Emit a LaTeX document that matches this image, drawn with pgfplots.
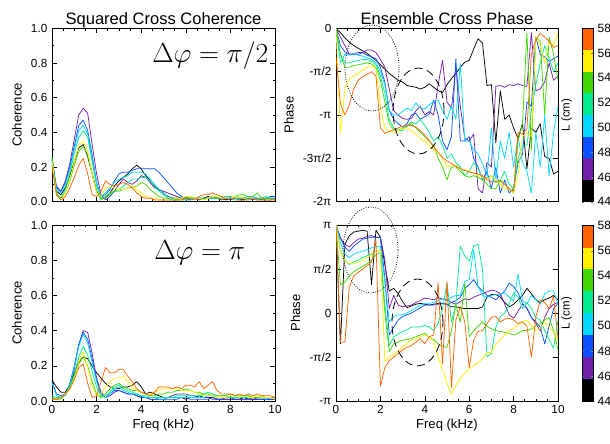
\documentclass[border=0pt]{standalone}
\usepackage{fontspec}
\setmainfont{Liberation Sans}
\usepackage{pgfplots}
\usepackage{pgfplotstable}
\pgfplotsset{compat=1.18}

\definecolor{cK}{RGB}{0,0,0}
\definecolor{cP}{RGB}{112,32,168}
\definecolor{cB}{RGB}{10,80,255}
\definecolor{cC}{RGB}{0,216,255}
\definecolor{cS}{RGB}{0,235,140}
\definecolor{cG}{RGB}{64,216,0}
\definecolor{cY}{RGB}{255,240,0}
\definecolor{cO}{RGB}{255,100,0}

% coherence, delta phi = pi/2
\pgfplotstableread{
f k p b c s g y o
0 0.26 0.24 0.22 0.24 0.26 0.25 0.23 0.20
0.2 0.06 0.09 0.08 0.07 0.05 0.04 0.04 0.04
0.4 0.04 0.06 0.06 0.05 0.02 0.02 0.01 0.01
0.6 0.08 0.12 0.11 0.10 0.07 0.05 0.05 0.03
0.8 0.15 0.22 0.20 0.18 0.16 0.12 0.13 0.08
1.0 0.23 0.36 0.32 0.30 0.28 0.21 0.23 0.14
1.2 0.31 0.50 0.44 0.41 0.37 0.29 0.32 0.21
1.4 0.33 0.54 0.47 0.44 0.41 0.32 0.35 0.25
1.6 0.26 0.51 0.41 0.39 0.37 0.27 0.29 0.16
1.8 0.16 0.33 0.27 0.25 0.23 0.16 0.16 0.04
2.0 0.06 0.16 0.11 0.11 0.09 0.06 0.05 0.03
2.2 0.02 0.04 0.03 0.03 0.02 0.01 0.03 0.06
2.4 0.02 0.01 0.04 0.05 0.02 0.03 0.08 0.12
2.6 0.05 0.03 0.07 0.08 0.04 0.05 0.08 0.10
2.8 0.09 0.06 0.12 0.11 0.06 0.06 0.08 0.09
3.0 0.12 0.10 0.16 0.13 0.07 0.06 0.07 0.10
3.2 0.14 0.13 0.17 0.14 0.09 0.07 0.07 0.11
3.4 0.16 0.11 0.17 0.15 0.11 0.08 0.08 0.10
3.6 0.19 0.10 0.18 0.17 0.13 0.08 0.09 0.08
3.8 0.21 0.12 0.19 0.17 0.13 0.09 0.07 0.05
4.0 0.19 0.15 0.19 0.17 0.14 0.11 0.05 0.03
4.2 0.15 0.14 0.19 0.16 0.14 0.10 0.03 0.02
4.4 0.12 0.11 0.19 0.13 0.12 0.07 0.02 0.02
4.6 0.09 0.08 0.19 0.10 0.09 0.05 0.02 0.01
4.8 0.07 0.07 0.17 0.07 0.06 0.03 0.01 0.01
5.0 0.05 0.06 0.14 0.05 0.04 0.02 0.01 0.01
5.2 0.03 0.05 0.11 0.03 0.02 0.02 0.01 0.01
5.4 0.02 0.04 0.08 0.02 0.02 0.01 0.01 0.01
5.6 0.02 0.03 0.05 0.02 0.01 0.01 0.02 0.01
5.8 0.02 0.02 0.03 0.02 0.01 0.02 0.02 0.01
6.0 0.02 0.02 0.02 0.01 0.01 0.02 0.03 0.02
6.2 0.01 0.02 0.02 0.01 0.02 0.03 0.03 0.02
6.4 0.02 0.02 0.02 0.02 0.02 0.02 0.02 0.01
6.6 0.02 0.01 0.02 0.02 0.02 0.02 0.02 0.03
6.8 0.02 0.02 0.02 0.02 0.01 0.02 0.01 0.04
7.0 0.03 0.02 0.02 0.02 0.02 0.02 0.02 0.04
7.2 0.02 0.02 0.03 0.02 0.02 0.03 0.03 0.05
7.4 0.02 0.02 0.02 0.02 0.02 0.02 0.03 0.04
7.6 0.02 0.01 0.02 0.03 0.02 0.02 0.02 0.03
7.8 0.01 0.02 0.02 0.02 0.03 0.02 0.02 0.02
8.0 0.02 0.02 0.01 0.02 0.03 0.02 0.02 0.02
8.2 0.02 0.02 0.02 0.02 0.02 0.03 0.03 0.01
8.4 0.02 0.01 0.02 0.02 0.02 0.04 0.03 0.01
8.6 0.01 0.02 0.02 0.02 0.02 0.04 0.02 0.01
8.8 0.02 0.02 0.02 0.03 0.02 0.03 0.01 0.01
9.0 0.02 0.02 0.01 0.03 0.02 0.03 0.02 0.02
9.2 0.02 0.01 0.02 0.02 0.02 0.05 0.01 0.01
9.4 0.01 0.02 0.02 0.02 0.02 0.02 0.01 0.01
9.6 0.02 0.01 0.02 0.02 0.03 0.02 0.01 0.01
9.8 0.02 0.01 0.03 0.02 0.02 0.02 0.01 0.01
10 0.02 0.02 0.03 0.02 0.01 0.01 0.01 0.01
}\cohA

% coherence, delta phi = pi
\pgfplotstableread{
f k p b c s g y o
0 0.12 0.02 0.11 0.10 0.03 0.02 0.01 0.01
0.2 0.08 0.01 0.04 0.03 0.02 0.01 0.01 0.01
0.4 0.05 0.02 0.03 0.02 0.02 0.01 0.02 0.02
0.6 0.05 0.04 0.04 0.03 0.04 0.04 0.04 0.04
0.8 0.09 0.09 0.10 0.09 0.08 0.08 0.07 0.07
1.0 0.16 0.18 0.20 0.19 0.15 0.14 0.12 0.12
1.2 0.22 0.32 0.32 0.31 0.25 0.21 0.22 0.19
1.4 0.25 0.40 0.39 0.38 0.31 0.25 0.28 0.21
1.6 0.24 0.39 0.35 0.33 0.26 0.20 0.19 0.10
1.8 0.20 0.27 0.24 0.22 0.17 0.11 0.09 0.02
2.0 0.16 0.13 0.12 0.11 0.08 0.04 0.03 0.03
2.2 0.13 0.05 0.04 0.03 0.02 0.02 0.04 0.11
2.4 0.10 0.02 0.02 0.02 0.03 0.04 0.08 0.19
2.6 0.08 0.03 0.04 0.04 0.05 0.07 0.11 0.16
2.8 0.07 0.05 0.06 0.07 0.08 0.09 0.13 0.16
3.0 0.07 0.06 0.06 0.08 0.09 0.10 0.13 0.18
3.2 0.08 0.05 0.05 0.06 0.07 0.08 0.14 0.18
3.4 0.08 0.04 0.04 0.05 0.06 0.07 0.11 0.14
3.6 0.09 0.04 0.04 0.04 0.05 0.06 0.08 0.11
3.8 0.11 0.03 0.03 0.04 0.04 0.06 0.06 0.07
4.0 0.08 0.02 0.02 0.03 0.03 0.05 0.05 0.05
4.2 0.04 0.02 0.02 0.02 0.03 0.04 0.04 0.04
4.4 0.05 0.01 0.01 0.02 0.02 0.03 0.04 0.03
4.6 0.04 0.01 0.01 0.02 0.02 0.03 0.05 0.05
4.8 0.03 0.01 0.01 0.01 0.02 0.04 0.06 0.08
5.0 0.02 0.01 0.01 0.01 0.02 0.04 0.07 0.08
5.2 0.02 0.02 0.01 0.02 0.02 0.05 0.07 0.08
5.4 0.02 0.03 0.01 0.02 0.02 0.05 0.07 0.07
5.6 0.02 0.04 0.01 0.02 0.03 0.06 0.07 0.08
5.8 0.02 0.04 0.02 0.02 0.03 0.06 0.06 0.07
6.0 0.01 0.04 0.02 0.02 0.03 0.07 0.06 0.09
6.2 0.02 0.03 0.01 0.02 0.03 0.06 0.06 0.09
6.4 0.02 0.03 0.01 0.02 0.03 0.05 0.05 0.08
6.6 0.03 0.02 0.01 0.02 0.03 0.05 0.04 0.11
6.8 0.02 0.02 0.01 0.02 0.04 0.04 0.03 0.07
7.0 0.02 0.02 0.01 0.03 0.05 0.04 0.03 0.09
7.2 0.02 0.01 0.02 0.03 0.04 0.03 0.03 0.11
7.4 0.01 0.01 0.01 0.02 0.03 0.03 0.02 0.06
7.6 0.01 0.01 0.01 0.02 0.03 0.03 0.02 0.04
7.8 0.01 0.01 0.02 0.02 0.03 0.03 0.02 0.04
8.0 0.01 0.01 0.02 0.02 0.02 0.04 0.03 0.04
8.2 0.01 0.01 0.01 0.02 0.02 0.03 0.03 0.03
8.4 0.01 0.01 0.01 0.02 0.02 0.03 0.02 0.04
8.6 0.02 0.01 0.01 0.02 0.02 0.03 0.03 0.03
8.8 0.01 0.01 0.01 0.02 0.03 0.03 0.02 0.04
9.0 0.01 0.01 0.02 0.02 0.02 0.02 0.02 0.03
9.2 0.01 0.01 0.01 0.02 0.02 0.02 0.03 0.04
9.4 0.01 0.01 0.01 0.02 0.02 0.03 0.02 0.03
9.6 0.01 0.01 0.01 0.01 0.02 0.02 0.02 0.03
9.8 0.01 0.01 0.01 0.02 0.02 0.02 0.02 0.03
10 0.01 0.01 0.01 0.02 0.02 0.02 0.01 0.02
}\cohB

% cross phase (in units of pi), delta phi = pi/2
\pgfplotstableread{
f k p b c s g y o
0 0 0 0 0 0 0 0 -0.33
0.2 -0.05 -0.1 -0.2 -0.4 -0.3 -0.3 -1.2 -0.87
0.4 -0.11 -0.2 -0.27 -0.3 -0.4 -0.45 -0.7 -1.0
0.6 -0.16 -0.3 -0.3 -0.31 -0.4 -0.45 -0.58 -0.88
0.8 -0.2 -0.29 -0.3 -0.29 -0.38 -0.43 -0.55 -0.7
1.0 -0.23 -0.28 -0.3 -0.31 -0.37 -0.42 -0.52 -0.6
1.2 -0.26 -0.28 -0.28 -0.32 -0.36 -0.41 -0.48 -0.56
1.4 -0.29 -0.25 -0.31 -0.34 -0.36 -0.4 -0.45 -0.53
1.6 -0.33 -0.25 -0.33 -0.36 -0.38 -0.41 -0.43 -0.5
1.8 -0.37 -0.28 -0.35 -0.4 -0.42 -0.45 -0.47 -0.55
2.0 -0.42 -0.36 -0.45 -0.5 -0.55 -0.6 -0.9 -1.15
2.2 -0.47 -0.45 -0.62 -0.65 -0.75 -0.85 -1.15 -1.21
2.4 -0.52 -0.7 -0.95 -0.95 -1.05 -1.1 -1.19 -1.19
2.6 -0.56 -0.95 -1.05 -1.0 -1.15 -1.17 -1.2 -1.17
2.8 -0.6 -1.0 -1.1 -1.0 -1.18 -1.18 -1.18 -1.15
3.0 -0.62 -1.04 -1.14 -0.96 -1.18 -1.15 -1.16 -1.13
3.2 -0.66 -1.05 -1.1 -0.92 -1.12 -1.13 -1.15 -1.12
3.4 -0.67 -1.04 -1.0 -0.95 -1.08 -1.1 -1.18 -1.12
3.6 -0.68 -0.95 -0.98 -0.86 -1.1 -1.15 -1.22 -1.14
3.8 -0.7 -0.9 -1.05 -0.92 -1.05 -1.2 -1.27 -1.18
4.0 -0.68 -1.0 -1.02 -0.93 -1.12 -1.25 -1.3 -1.23
4.2 -0.64 -0.96 -0.99 -0.88 -1.2 -1.3 -1.36 -1.3
4.4 -0.68 -1.0 -0.83 -0.85 -1.3 -1.35 -1.4 -1.37
4.6 -0.72 -0.65 -1.0 -0.83 -1.25 -1.5 -1.44 -1.43
4.8 -0.74 -0.37 -1.3 -0.95 -1.35 -1.6 -1.5 -1.49
5.0 -0.65 -0.85 -1.4 -1.05 -1.5 -1.75 -1.6 -1.53
5.2 -0.58 -0.92 -1.25 -0.9 -1.45 -1.6 -1.58 -1.56
5.4 -0.52 -0.45 -0.35 -1.05 -1.55 -1.6 -1.58 -1.59
5.6 -0.45 -0.9 -1.3 -0.4 -1.6 -1.65 -1.62 -1.62
5.8 -0.39 -1.27 -1.3 -1.3 -1.7 -1.7 -1.63 -1.64
6.0 -0.37 -1.3 -1.25 -1.3 -1.65 -1.72 -1.65 -1.66
6.2 -0.24 -1.22 -1.5 -1.4 -1.55 -1.7 -1.67 -1.67
6.4 -0.12 -1.85 -1.6 -1.45 -1.62 -1.72 -1.7 -1.68
6.6 -0.17 -1.9 -1.75 -1.56 -1.72 -1.75 -1.72 -1.7
6.8 -0.66 -1.55 -1.65 -1.7 -1.72 -1.8 -1.75 -1.74
7.0 -0.65 -1.6 -1.85 -1.15 -1.7 -1.85 -1.7 -1.77
7.2 -1.32 -0.67 -1.6 -1.75 -1.78 -1.85 -1.75 -1.77
7.4 -0.72 -0.66 -1.9 -1.3 -1.75 -1.75 -1.8 -1.77
7.6 -1.05 -0.68 -1.75 -1.5 -1.65 -1.8 -1.85 -1.8
7.8 -1.0 -0.65 -1.9 -1.2 -1.8 -1.85 -1.85 -1.85
8.0 -1.15 -0.66 -1.85 -1.6 -1.85 -1.9 -1.9 -1.88
8.2 -1.27 -0.64 -1.55 -1.25 -1.5 -1.3 -1.7 -1.2
8.4 -1.1 -0.66 -1.45 -1.55 -1.35 -1.1 -1.25 -1.22
8.6 -1.62 -0.67 -0.85 -1.65 -1.35 -0.05 -1.2 -1.16
8.8 -1.15 -0.05 -0.9 -1.9 -0.95 -1.4 -1.25 -0.3
9.0 -1.2 -0.72 -0.1 -1.2 -0.65 -0.1 -0.1 -0.13
9.2 -1.1 -0.7 -0.3 -1.6 -0.4 -0.15 -0.2 -0.06
9.4 -1.48 -0.62 -0.33 -1.0 -0.2 -1.0 -0.4 -0.1
9.6 -1.5 -0.4 -0.38 -1.7 -0.35 -0.1 -0.15 -0.15
9.8 -1.68 -0.6 -0.35 -1.2 -0.5 -0.3 -0.2 -0.22
10 -1.65 -0.55 -0.32 -0.9 -0.4 -0.6 -0.05 -0.2
}\phaA

% cross phase (in units of pi), delta phi = pi
\pgfplotstableread{
f k p b c s g y o
0 1 1 1 1 1 1 1 1
0.2 -0.35 0.85 0.85 0.8 0.7 0.32 0.7 -0.33
0.4 0.78 0.78 0.75 0.67 0.6 0.35 0.59 -0.33
0.6 0.88 0.75 0.7 0.63 0.55 0.42 0.56 0.3
0.8 0.92 0.8 0.76 0.67 0.58 0.47 0.56 0.42
1.0 0.93 0.84 0.8 0.69 0.6 0.5 0.58 0.46
1.2 0.94 0.85 0.84 0.7 0.63 0.53 0.6 0.5
1.4 0.93 0.87 0.85 0.72 0.65 0.56 0.63 0.54
1.6 0.32 0.88 0.86 0.74 0.67 0.6 0.66 0.58
1.8 0.94 0.86 0.86 0.75 0.7 0.66 0.7 0.82
2.0 0.86 0.86 0.86 0.76 0.72 0.69 0.72 -0.83
2.2 0.55 0.6 0.4 0.35 0.1 0.0 -0.55 -0.62
2.4 0.25 0.05 -0.25 -0.1 -0.37 -0.44 -0.5 -0.54
2.6 0.28 0.2 -0.16 -0.04 -0.27 -0.35 -0.47 -0.5
2.8 0.22 0.09 -0.08 -0.02 -0.24 -0.33 -0.43 -0.46
3.0 0.13 0.07 -0.04 -0.02 -0.21 -0.31 -0.39 -0.42
3.2 0.06 0.08 -0.02 0.0 -0.19 -0.3 -0.34 -0.39
3.4 0.08 0.09 0.0 0.03 -0.16 -0.29 -0.31 -0.37
3.6 0.1 0.12 0.03 0.06 -0.16 -0.27 -0.29 -0.33
3.8 0.11 0.14 0.06 0.09 -0.16 -0.25 -0.27 -0.29
4.0 0.1 0.17 0.09 0.11 -0.14 -0.23 -0.25 -0.35
4.2 0.09 0.16 0.09 0.11 -0.16 -0.28 -0.27 -0.27
4.4 0.1 0.15 0.09 0.12 -0.2 -0.3 -0.33 -0.25
4.6 0.11 0.17 0.1 0.14 -0.12 -0.35 -0.5 0.34
4.8 0.11 0.16 0.11 0.16 0.05 -0.38 -0.65 -0.58
5.0 0.1 0.15 0.09 0.14 0.34 -0.39 -0.8 0.36
5.2 0.07 0.12 0.12 0.18 -0.1 -0.2 -0.92 -0.85
5.4 0.07 0.1 0.14 0.2 0.1 0.1 -0.82 -0.08
5.6 0.06 0.13 0.18 0.2 0.76 -0.1 -0.74 0.07
5.8 0.05 0.16 0.28 0.36 0.65 0.34 -0.68 -0.1
6.0 0.05 0.15 0.32 0.38 0.59 -0.27 -0.64 -0.62
6.2 0.05 0.18 0.38 0.72 0.76 -0.2 -0.6 -0.31
6.4 0.05 0.2 0.3 0.3 0.78 -0.15 -0.56 -0.21
6.6 0.07 0.22 0.25 0.2 0.49 -0.1 -0.52 -0.2
6.8 0.18 0.24 0.2 0.18 -0.5 -0.15 -0.45 -0.12
7.0 0.21 0.26 0.18 0.2 -0.46 -0.18 -0.45 -0.05
7.2 0.21 0.25 0.15 0.21 -0.16 -0.2 -0.36 -0.04
7.4 0.18 0.22 0.2 0.21 -0.04 -0.21 -0.3 -0.1
7.6 0.12 0.1 0.25 0.23 0.0 -0.22 -0.25 -0.07
7.8 0.07 -0.02 0.34 0.18 0.1 -0.23 -0.2 -0.06
8.0 0.1 -0.06 0.3 0.14 0.23 -0.25 -0.18 -0.08
8.2 0.15 0.02 0.23 0.44 0.18 -0.23 -0.14 -0.12
8.4 0.2 0.1 0.11 0.15 0.05 -0.2 -0.1 -0.1
8.6 0.28 0.06 0.05 0.1 0.12 -0.2 -0.08 -0.15
8.8 0.22 -0.05 -0.05 0.2 0.05 -0.18 -0.14 -0.5
9.0 0.15 -0.12 -0.1 0.15 -0.05 -0.15 -0.2 -0.05
9.2 0.12 -0.2 -0.16 0.1 -0.08 -0.12 -0.18 0.15
9.4 0.15 -0.05 -0.35 0.22 -0.2 -0.08 -0.1 0.12
9.6 0.17 0.05 -0.15 0.25 -0.3 -0.05 -0.15 0.05
9.8 0.2 0.1 0.05 0.25 -0.4 -0.2 -0.22 0.19
10 0.15 0.12 0.11 0.11 -0.08 -0.42 -0.32 -0.29
}\phaB

\newcommand\plotall[1]{%
  \addplot[ser,cK] table[x=f,y=k]{#1};
  \addplot[ser,cP] table[x=f,y=p]{#1};
  \addplot[ser,cB] table[x=f,y=b]{#1};
  \addplot[ser,cC] table[x=f,y=c]{#1};
  \addplot[ser,cS] table[x=f,y=s]{#1};
  \addplot[ser,cG] table[x=f,y=g]{#1};
  \addplot[ser,cY] table[x=f,y=y]{#1};
  \addplot[ser,cO] table[x=f,y=o]{#1};
}

\newcommand\colbar{%
  \addplot[fill=cK,draw=none] coordinates {(0,44) (1,44) (1,45.75) (0,45.75)};
  \addplot[fill=cP,draw=none] coordinates {(0,45.75) (1,45.75) (1,47.5) (0,47.5)};
  \addplot[fill=cB,draw=none] coordinates {(0,47.5) (1,47.5) (1,49.25) (0,49.25)};
  \addplot[fill=cC,draw=none] coordinates {(0,49.25) (1,49.25) (1,51) (0,51)};
  \addplot[fill=cS,draw=none] coordinates {(0,51) (1,51) (1,52.75) (0,52.75)};
  \addplot[fill=cG,draw=none] coordinates {(0,52.75) (1,52.75) (1,54.5) (0,54.5)};
  \addplot[fill=cY,draw=none] coordinates {(0,54.5) (1,54.5) (1,56.25) (0,56.25)};
  \addplot[fill=cO,draw=none] coordinates {(0,56.25) (1,56.25) (1,58) (0,58)};
}

\pgfplotsset{
  ser/.style={no marks, line width=0.55pt, line join=round},
  panel/.style={scale only axis, anchor=south west,
    xmin=0, xmax=10, xtick={0,2,...,10}, minor x tick num=3,
    tick align=inside, major tick length=3.5pt, minor tick length=1.8pt,
    every tick/.style={black, line width=0.4pt},
    axis line style={line width=0.6pt},
    tick label style={font=\fontsize{8.8}{10}\selectfont},
    label style={font=\fontsize{9.8}{11}\selectfont},
    title style={font=\fontsize{12.4}{14}\selectfont, at={(0.5,1)}, anchor=base, yshift=-3.3pt},
    xlabel style={at={(0.5,0)}, anchor=base, yshift=-20.5pt},
    /pgf/number format/assume math mode=true},
  coh/.style={ymin=0, ymax=1, ytick={0,0.2,...,1.0}, minor y tick num=1,
    yticklabel style={/pgf/number format/fixed, /pgf/number format/fixed zerofill, /pgf/number format/precision=1},
    ylabel={Coherence}},
  cbar/.style={scale only axis, anchor=south west, width=8.25pt,
    xmin=0, xmax=1, ymin=44, ymax=58, xtick=\empty, ytick={44,46,...,58},
    yticklabel pos=right, axis on top, major tick length=1.5pt,
    axis line style={line width=0.6pt},
    tick label style={font=\fontsize{9}{10}\selectfont},
    /pgf/number format/assume math mode=true,
    ylabel={L (cm)}, ylabel style={font=\fontsize{8.6}{10}\selectfont, at={(axis description cs:-1.4,0.5)}, anchor=center}},
}

\begin{document}
\begin{tikzpicture}
\path[use as bounding box] (0,0) rectangle (457.5pt,332.25pt);

% top left
\begin{axis}[panel, coh, at={(39pt,181pt)}, width=167.25pt, height=130pt,
  xticklabels={}, title={Squared Cross Coherence}]
  \plotall{\cohA}
\end{axis}

% bottom left
\begin{axis}[panel, coh, at={(39pt,31.5pt)}, width=167.25pt, height=132pt,
  xlabel={Freq (kHz)}]
  \plotall{\cohB}
\end{axis}

% top right
\begin{axis}[panel, at={(252pt,181pt)}, width=166.5pt, height=130pt,
  xticklabels={}, title={Ensemble Cross Phase},
  ymin=-2, ymax=0, ytick={-2,-1.5,-1,-0.5,0},
  yticklabels={-2π,-3π/2,-π,-π/2,0}, ylabel={Phase}]
  \plotall{\phaA}
\end{axis}

% bottom right
\begin{axis}[panel, at={(252pt,31.5pt)}, width=166.5pt, height=132pt,
  xlabel={Freq (kHz)},
  ymin=-1, ymax=1, ytick={-1,-0.5,0,0.5,1},
  yticklabels={-π,-π/2,0,π/2,π}, ylabel={Phase}]
  \plotall{\phaB}
\end{axis}

% colour bars
\begin{axis}[cbar, at={(436.5pt,181pt)}, height=130pt]
  \colbar
\end{axis}
\begin{axis}[cbar, at={(436.5pt,31.5pt)}, height=131.5pt]
  \colbar
\end{axis}

% annotations
\node[anchor=base west, inner sep=0pt, font=\fontsize{20.8}{22}\selectfont] at (114pt,285pt) {$\Delta\varphi = \pi/2$};
\node[anchor=base west, inner sep=0pt, font=\fontsize{20.8}{22}\selectfont] at (115.5pt,137.25pt) {$\Delta\varphi = \pi$};

\draw[line width=0.6pt, dash pattern=on 0.6pt off 1.2pt] (279pt,281.25pt) ellipse (20.25pt and 32.25pt);
\draw[line width=0.6pt, dash pattern=on 6pt off 3.5pt] (313.9pt,249pt) ellipse (19.1pt and 32.25pt);
\draw[line width=0.6pt, dash pattern=on 0.6pt off 1.2pt] (277.9pt,144.75pt) ellipse (20.6pt and 32.25pt);
\draw[line width=0.6pt, dash pattern=on 6pt off 3.5pt] (313.1pt,90.4pt) ellipse (19.1pt and 32.6pt);
\end{tikzpicture}
\end{document}
